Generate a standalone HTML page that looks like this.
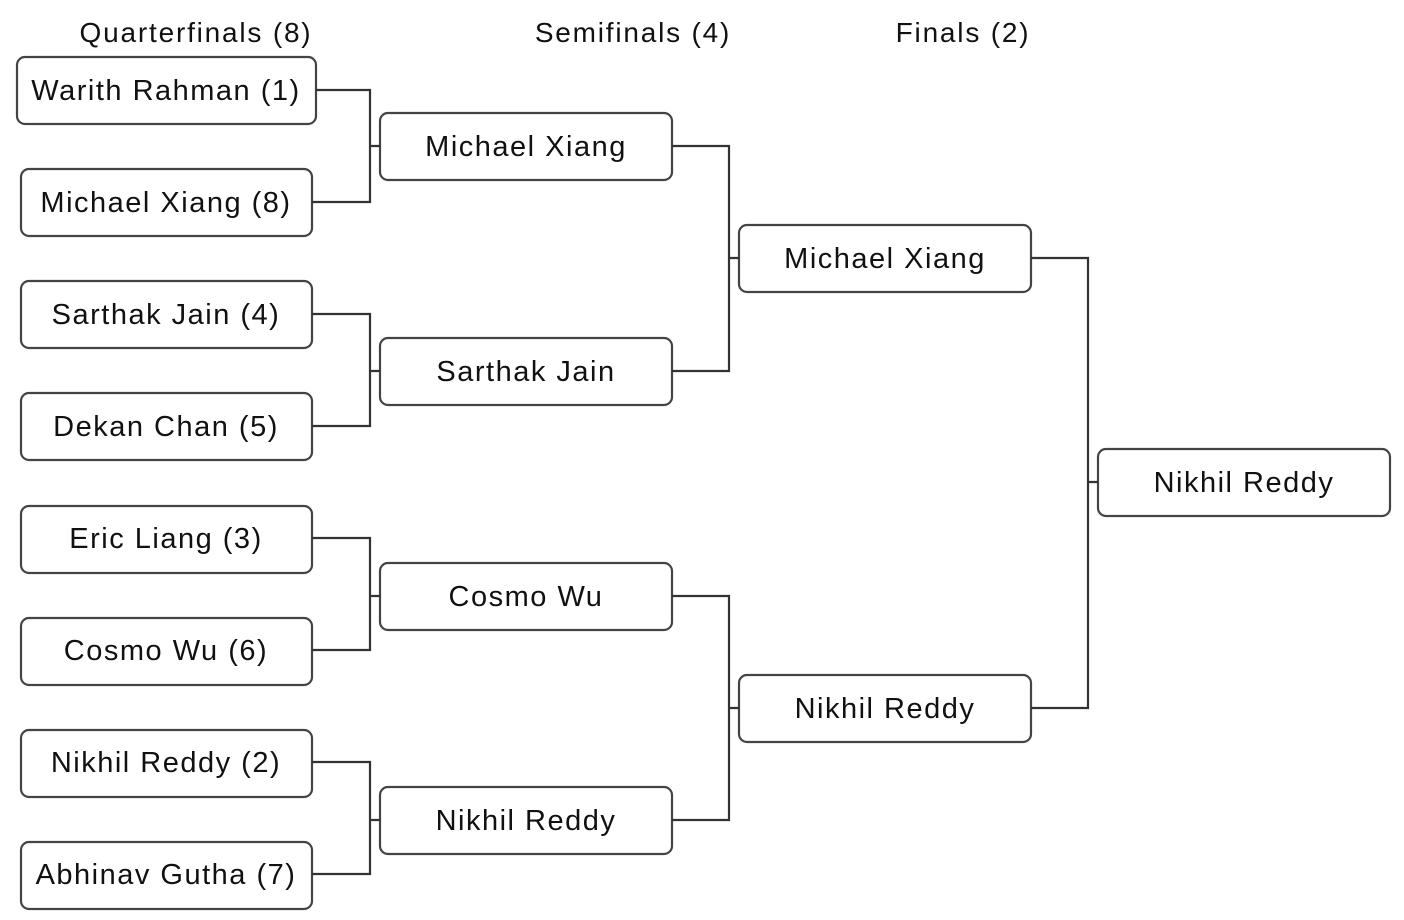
<!DOCTYPE html>
<html><head><meta charset="utf-8"><style>
html,body{margin:0;padding:0;background:#fff;}
svg{display:block;}
text{font-family:"Liberation Sans",sans-serif;fill:#111;}
</style></head><body>
<svg width="1404" height="920" viewBox="0 0 1404 920" xmlns="http://www.w3.org/2000/svg">
<g font-size="28" text-anchor="middle" letter-spacing="1.8">
<text x="196" y="42">Quarterfinals (8)</text>
<text x="633" y="42">Semifinals (4)</text>
<text x="963" y="42">Finals (2)</text>
</g>
<g fill="#fff" stroke="#444" stroke-width="2.2">
<rect x="17" y="57" width="299" height="67" rx="8"/>
<rect x="21" y="169" width="291" height="67" rx="8"/>
<rect x="21" y="281" width="291" height="67" rx="8"/>
<rect x="21" y="393" width="291" height="67" rx="8"/>
<rect x="21" y="506" width="291" height="67" rx="8"/>
<rect x="21" y="618" width="291" height="67" rx="8"/>
<rect x="21" y="730" width="291" height="67" rx="8"/>
<rect x="21" y="842" width="291" height="67" rx="8"/>
<rect x="380" y="113" width="292" height="67" rx="8"/>
<rect x="380" y="338" width="292" height="67" rx="8"/>
<rect x="380" y="563" width="292" height="67" rx="8"/>
<rect x="380" y="787" width="292" height="67" rx="8"/>
<rect x="739" y="225" width="292" height="67" rx="8"/>
<rect x="739" y="675" width="292" height="67" rx="8"/>
<rect x="1098" y="449" width="292" height="67" rx="8"/>
</g>
<g fill="none" stroke="#333" stroke-width="2.2">
<path d="M316 90H370V202H312M370 146H380"/>
<path d="M312 314H370V426H312M370 371H380"/>
<path d="M312 538H370V650H312M370 596H380"/>
<path d="M312 762H370V874H312M370 820H380"/>
<path d="M672 146H729V371H672M729 258H739"/>
<path d="M672 596H729V820H672M729 708H739"/>
<path d="M1031 258H1088V708H1031M1088 482H1098"/>
</g>
<g font-size="29" text-anchor="middle" letter-spacing="1.5">
<text x="166" y="100">Warith Rahman (1)</text>
<text x="166" y="212">Michael Xiang (8)</text>
<text x="166" y="324">Sarthak Jain (4)</text>
<text x="166" y="436">Dekan Chan (5)</text>
<text x="166" y="548">Eric Liang (3)</text>
<text x="166" y="660">Cosmo Wu (6)</text>
<text x="166" y="772">Nikhil Reddy (2)</text>
<text x="166" y="884">Abhinav Gutha (7)</text>
<text x="526" y="156">Michael Xiang</text>
<text x="526" y="381">Sarthak Jain</text>
<text x="526" y="606">Cosmo Wu</text>
<text x="526" y="830">Nikhil Reddy</text>
<text x="885" y="268">Michael Xiang</text>
<text x="885" y="718">Nikhil Reddy</text>
<text x="1244" y="492">Nikhil Reddy</text>
</g>
</svg>
</body></html>
